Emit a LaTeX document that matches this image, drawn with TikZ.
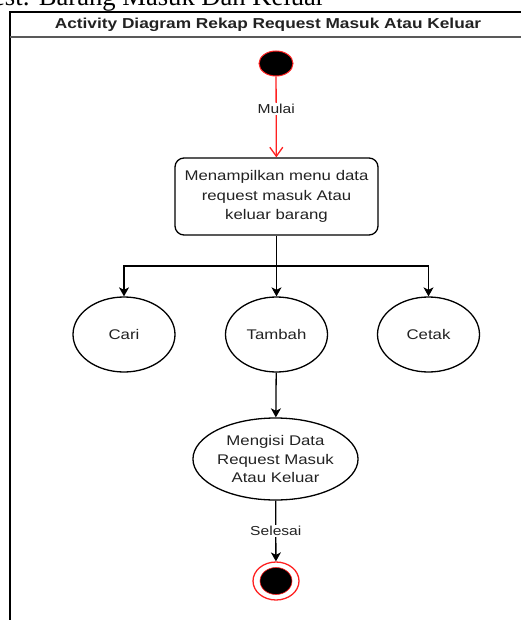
\documentclass[tikz,border=0pt]{standalone}
\usepackage{fontspec}
\setmainfont{Liberation Sans}[FakeStretch=1.2]
\newfontfamily\capfont{Liberation Serif}
\usetikzlibrary{arrows.meta,shapes.geometric}
\definecolor{txt}{HTML}{222222}
\definecolor{uired}{HTML}{FF2020}
\tikzset{
  base/.style={line width=1.3pt, draw=black},
  actbox/.style={base, rectangle, rounded corners=9pt, minimum width=203pt,
    minimum height=77pt, inner sep=0pt, align=center, text=txt,
    font=\fontsize{14}{19.5}\selectfont},
  usecase/.style={base, ellipse, inner sep=0pt, align=center, text=txt,
    font=\fontsize{14}{18.5}\selectfont},
  flow/.style={line width=1.3pt, -{Stealth[length=9pt,width=10pt,inset=2.5pt]}},
  startflow/.style={line width=1.3pt, draw=uired, -{Straight Barb[length=9pt,width=13pt]}},
  edgelabel/.style={fill=white, inner sep=1.5pt, text=txt, font=\fontsize{13}{15}\selectfont}
}
\begin{document}
\begin{tikzpicture}[x=1pt,y=-1pt]
\useasboundingbox (0,0) rectangle (521,620);
\clip (0,0) rectangle (521,620);

% caption of the figure, running above the frame
\node[anchor=base east, inner sep=0pt, text=black,
  font=\capfont\fontsize{26.6}{30}\selectfont] (caption) at (325,6)
  {Request: Barang Masuk Dan Keluar};

% swimlane frame and header
\draw[line width=1.5pt] (10,630) -- (10,12) -- (530,12);
\draw[line width=1.6pt, draw=black!65] (10,37) -- (530,37);
\node[text=txt, font=\bfseries\fontsize{14.4}{16}\selectfont] (title) at (268,24.5)
  {Activity Diagram Rekap Request Masuk Atau Keluar};

% initial node
\node[ellipse, fill=black, draw=uired, line width=1pt, minimum width=34pt,
  minimum height=25pt, inner sep=0pt] (start) at (276,63.5) {};

% main menu action
\node[actbox] (menu) at (276.5,196.5)
  {Menampilkan menu data\\request masuk Atau\\keluar barang};

% choices
\node[usecase, minimum width=102pt, minimum height=75pt] (cari) at (124,334.5) {Cari};
\node[usecase, minimum width=102pt, minimum height=75pt] (tambah) at (276.5,334.5) {Tambah};
\node[usecase, minimum width=102pt, minimum height=75pt] (cetak) at (428.5,334.5) {Cetak};

% form input
\node[usecase, minimum width=145pt, minimum height=82pt] (isi) at (275.5,459)
  {Mengisi Data\\Request Masuk\\Atau Keluar};

% final node
\node[ellipse, draw=uired, line width=1.3pt, minimum width=46pt,
  minimum height=38pt, inner sep=0pt] (end) at (276,581) {};
\node[ellipse, fill=black, draw=uired, line width=0.6pt, minimum width=32pt,
  minimum height=27pt, inner sep=0pt] (endcore) at (276,581) {};

% connectors
\coordinate (fork) at (276.5,266);
\draw[startflow] (start) -- node[pos=0.4, edgelabel] (mulai) {Mulai} (menu);
\draw[line width=1.3pt] (menu.south) -- (fork);
\draw[flow] (fork) -| (cari.north);
\draw[flow] (fork) -| (cetak.north);
\draw[flow] (fork) -- (tambah.north);
\draw[flow] (tambah) -- (isi);
\draw[flow] (isi) -- node[pos=0.5, edgelabel] (selesai) {Selesai} (end);
\end{tikzpicture}
\end{document}
